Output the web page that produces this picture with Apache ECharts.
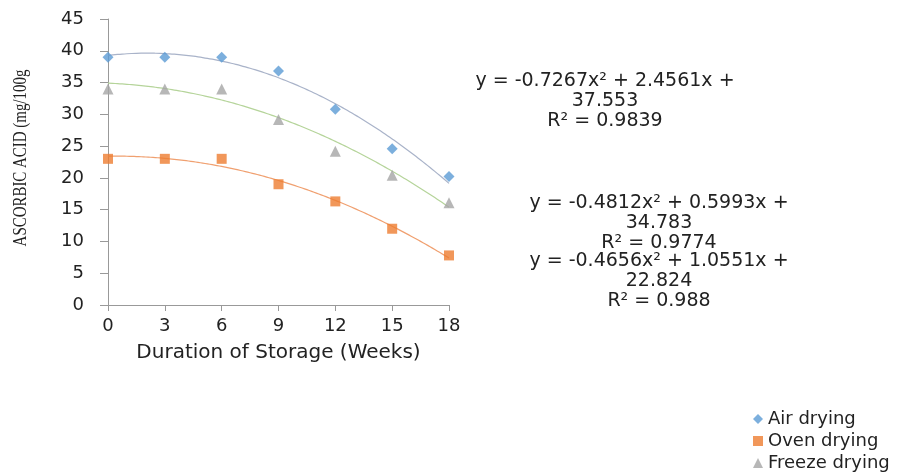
<!DOCTYPE html>
<html><head><meta charset="utf-8">
<script src="https://cdn.jsdelivr.net/npm/echarts@6/dist/echarts.min.js"></script>
<style>html,body{margin:0;padding:0;background:#fff}#c{width:915px;height:475px}</style>
</head><body><div id="c"></div>
<script>
var weeks = [0, 3, 6, 9, 12, 15, 18];
var airDrying = [39, 39, 39, 36.8, 30.8, 24.6, 20.2];
var ovenDrying = [23, 23, 23, 19, 16.3, 12, 7.8];
var freezeDrying = [34, 34, 34, 29.2, 24.2, 20.4, 16.1];
// trendline coefficients [a, b, c] as printed (x = point index 1..7)
var airFit = [-0.7267, 2.4561, 37.553];
var freezeFit = [-0.4812, 0.5993, 34.783];
var ovenFit = [-0.4656, 1.0551, 22.824];
var yTicks = [0, 5, 10, 15, 20, 25, 30, 35, 40, 45];
var yTitle = 'ASCORBIC ACID (mg/100g';

function pts(vals){ return weeks.map(function(w,i){ return [w, vals[i]]; }); }
function trend(c){
  var out = [];
  for (var k = 0; k <= 72; k++){
    var w = weeks[0] + (weeks[weeks.length-1]-weeks[0]) * k / 72;
    var x = w / 3 + 1;
    out.push([w, c[0]*x*x + c[1]*x + c[2]]);
  }
  return out;
}
var chart = echarts.init(document.getElementById('c'));
var f = 'DejaVu Sans, sans-serif';
chart.setOption({
  animation: false,
  grid: {left: 108, right: 466, top: 19, bottom: 170},
  xAxis: {type: 'value', min: 0, max: 18, interval: 3,
    name: 'Duration of Storage (Weeks)', nameLocation: 'middle', nameGap: 38,
    nameTextStyle: {fontFamily: f, fontSize: 20, color: '#222'},
    axisLine: {lineStyle: {color: '#999'}}, axisTick: {show: true, length: 6, lineStyle: {color: '#999'}},
    axisLabel: {fontFamily: f, fontSize: 18, color: '#222', margin: 12},
    splitLine: {show: false}},
  yAxis: {type: 'value', min: 0, max: 45, interval: 5,
    axisLine: {show: true, lineStyle: {color: '#999'}}, axisTick: {show: true, length: 8, lineStyle: {color: '#999'}},
    axisLabel: {fontFamily: f, fontSize: 18, color: '#222', margin: 24,
      formatter: function(v){ return yTicks.indexOf(v) >= 0 ? String(v) : ''; }},
    splitLine: {show: false}},
  legend: {orient: 'vertical', left: 753, top: 410, padding: 0, itemGap: 4, itemWidth: 10, itemHeight: 10,
    textStyle: {fontFamily: f, fontSize: 18, lineHeight: 18, color: '#222'},
    data: [{name: 'Air drying', icon: 'diamond'}, {name: 'Oven drying', icon: 'rect'}, {name: 'Freeze drying', icon: 'triangle'}]},
  series: [
    {name: 'Air trend', type: 'line', data: trend(airFit), smooth: true, showSymbol: false, lineStyle: {color: '#a9b3c9', width: 1.2}, silent: true, z: 1},
    {name: 'Freeze trend', type: 'line', data: trend(freezeFit), smooth: true, showSymbol: false, lineStyle: {color: '#b5d49a', width: 1.2}, silent: true, z: 1},
    {name: 'Oven trend', type: 'line', data: trend(ovenFit), smooth: true, showSymbol: false, lineStyle: {color: '#f0a070', width: 1.2}, silent: true, z: 1},
    {name: 'Air drying', type: 'scatter', data: pts(airDrying), symbol: 'diamond', symbolSize: 11, itemStyle: {color: '#5b9bd5'}, z: 3},
    {name: 'Oven drying', type: 'scatter', data: pts(ovenDrying), symbol: 'rect', symbolSize: 10, itemStyle: {color: '#ed7d31'}, z: 3},
    {name: 'Freeze drying', type: 'scatter', data: pts(freezeDrying), symbol: 'triangle', symbolSize: 11, itemStyle: {color: '#a5a5a5'}, z: 3}
  ],
  graphic: [
    {type: 'text', x: 21, y: 158, rotation: Math.PI / 2, scaleX: 0.83, style: {text: yTitle, align: 'center', verticalAlign: 'middle', font: '18px Liberation Serif, serif', fill: '#222'}, silent: true},
    {type: 'text', x: 605, y: 101, style: {text: 'y = -0.7267x² + 2.4561x +\n37.553\nR² = 0.9839', align: 'center', verticalAlign: 'middle', font: '19px ' + f, fill: '#222', lineHeight: 20}, silent: true},
    {type: 'text', x: 659, y: 223, style: {text: 'y = -0.4812x² + 0.5993x +\n34.783\nR² = 0.9774', align: 'center', verticalAlign: 'middle', font: '19px ' + f, fill: '#222', lineHeight: 20}, silent: true},
    {type: 'text', x: 659, y: 281, style: {text: 'y = -0.4656x² + 1.0551x +\n22.824\nR² = 0.988', align: 'center', verticalAlign: 'middle', font: '19px ' + f, fill: '#222', lineHeight: 20}, silent: true}
  ]
});
</script></body></html>
